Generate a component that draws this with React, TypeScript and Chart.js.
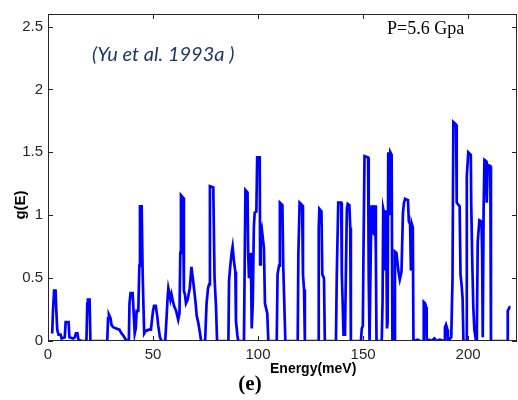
import React, { useEffect, useRef } from "react";
import { Chart, registerables } from "chart.js";
Chart.register(...registerables);

// Energy (meV) and g(E)
const energy = [
  2.0, 2.4, 2.9, 3.6, 4.0, 4.4, 5.0, 6.0, 6.5, 8.0, 8.4, 9.8, 10.2, 12.0, 12.8, 13.3, 14.0, 14.5, 16.0, 18.3,
  18.7, 19.0, 19.8, 20.2, 28.2, 28.6, 29.0, 29.8, 30.2, 31.0, 32.5, 34.0, 35.0, 36.0, 37.0, 38.5, 38.8, 39.3, 40.3, 40.8,
  41.3, 41.8, 42.2, 43.0, 43.5, 43.8, 44.6, 45.0, 45.3, 45.8, 46.5, 48.0, 49.0, 50.0, 50.5, 51.3, 52.0, 52.5, 53.3, 54.0,
  55.8, 56.5, 57.0, 57.3, 57.8, 58.3, 58.8, 59.3, 60.0, 61.0, 62.0, 62.6, 63.0, 63.3, 64.3, 64.7, 65.2, 65.7, 66.5, 67.5,
  68.3, 68.8, 69.5, 70.3, 70.8, 71.5, 72.3, 72.9, 74.8, 75.5, 76.2, 76.7, 77.1, 78.7, 79.3, 80.0, 80.5, 85.9, 86.2, 86.8,
  87.5, 87.9, 88.5, 89.2, 89.5, 90.2, 90.6, 93.3, 93.7, 94.0, 95.0, 95.3, 95.7, 96.2, 96.6, 97.0, 97.5, 98.0, 98.4, 99.2,
  99.6, 100.8, 101.0, 101.3, 101.8, 102.8, 103.3, 104.4, 104.9, 108.9, 109.3, 110.0, 110.4, 111.6, 112.0, 112.5, 113.0, 118.9, 119.2, 119.8,
  121.0, 121.4, 121.9, 122.3, 128.6, 128.9, 129.2, 130.2, 130.6, 131.4, 131.8, 137.1, 137.5, 138.2, 139.6, 139.9, 140.3, 140.7, 141.4, 141.8,
  142.3, 142.7, 143.5, 143.9, 144.2, 149.0, 149.4, 149.9, 150.2, 150.7, 152.4, 152.7, 153.1, 153.5, 154.0, 154.4, 154.8, 155.3, 155.7, 156.1,
  156.4, 158.9, 159.3, 159.6, 160.2, 160.6, 161.0, 161.4, 161.7, 162.0, 162.6, 163.0, 163.6, 164.0, 164.8, 165.2, 165.9, 166.8, 167.5, 168.3,
  169.0, 169.5, 170.0, 171.4, 171.8, 172.4, 172.8, 173.2, 173.7, 174.0, 176.0, 177.0, 178.6, 178.9, 179.5, 180.0, 180.3, 181.5, 182.5, 184.0,
  185.0, 186.5, 188.6, 189.0, 189.5, 190.2, 190.4, 192.0, 192.6, 193.0, 194.3, 194.6, 196.0, 196.4, 196.9, 197.4, 197.8, 199.1, 199.4, 200.1,
  201.3, 201.5, 202.0, 202.5, 203.0, 203.8, 204.2, 204.6, 205.4, 206.4, 206.7, 207.0, 207.4, 207.8, 208.6, 208.9, 209.4, 210.6, 210.9, 218.6,
  218.9, 219.8, 220.2,
];
const gE = [
  0.06, 0.25, 0.40, 0.40, 0.23, 0.09, 0.05, 0.05, 0.02, 0.03, 0.15, 0.15, 0.03, 0.02, 0.03, 0.06, 0.06, 0.01, 0.0, 0.0,
  0.30, 0.33, 0.33, 0.0, 0.0, 0.18, 0.21, 0.18, 0.13, 0.11, 0.10, 0.09, 0.06, 0.04, 0.01, 0.0, 0.30, 0.38, 0.38, 0.22,
  0.06, 0.10, 0.24, 0.24, 0.60, 1.07, 1.07, 0.60, 0.37, 0.06, 0.08, 0.09, 0.09, 0.24, 0.28, 0.28, 0.20, 0.12, 0.03, 0.0,
  0.0, 0.20, 0.36, 0.42, 0.38, 0.33, 0.37, 0.33, 0.28, 0.24, 0.17, 0.22, 0.70, 1.16, 1.14, 0.40, 0.37, 0.30, 0.33, 0.42,
  0.59, 0.52, 0.42, 0.30, 0.20, 0.15, 0.07, 0.0, 0.0, 0.30, 0.42, 0.45, 1.23, 1.22, 0.50, 0.27, 0.0, 0.0, 0.48, 0.60,
  0.71, 0.75, 0.64, 0.55, 0.16, 0.04, 0.0, 0.0, 0.70, 1.20, 1.18, 0.70, 0.50, 0.70, 0.65, 0.10, 0.30, 0.90, 1.02, 1.03,
  1.46, 1.46, 0.61, 0.85, 0.89, 0.74, 0.30, 0.22, 0.0, 0.0, 0.53, 0.60, 1.10, 1.08, 0.60, 0.30, 0.0, 0.0, 0.69, 1.10,
  1.08, 0.53, 0.41, 0.0, 0.0, 0.90, 1.05, 1.03, 0.53, 0.50, 0.0, 0.0, 0.53, 1.10, 1.10, 0.53, 0.30, 0.05, 0.05, 0.50,
  1.05, 1.09, 1.08, 0.90, 0.0, 0.0, 0.10, 0.12, 0.69, 1.47, 1.46, 0.50, 0.0, 0.50, 1.08, 0.85, 1.08, 0.84, 1.08, 0.70,
  0.0, 0.0, 0.32, 1.05, 1.00, 0.56, 1.04, 0.10, 0.15, 1.50, 1.00, 1.50, 1.48, 0.0, 0.0, 0.71, 0.70, 0.56, 0.49, 0.55,
  1.02, 1.10, 1.13, 1.12, 0.95, 0.93, 0.56, 0.93, 0.90, 0.0, 0.01, 0.0, 0.0, 0.31, 0.30, 0.27, 0.0, 0.01, 0.0, 0.02,
  0.0, 0.01, 0.0, 0.11, 0.13, 0.09, 0.0, 0.03, 0.50, 1.74, 1.72, 1.10, 1.07, 0.53, 0.45, 0.34, 0.0, 0.0, 1.31, 1.50,
  1.48, 1.10, 0.63, 0.27, 0.09, 0.0, 0.09, 0.79, 0.96, 0.95, 0.70, 0.03, 1.04, 1.44, 1.43, 1.10, 1.40, 1.39, 0.0, 0.0,
  0.24, 0.27, 0.27,
];

const xTicks = [0, 50, 100, 150, 200];
const yTicks = [0, 0.5, 1, 1.5, 2, 2.5];
const xMin = 0;
const xMax = 223.3;
const yMin = 0;
const yMax = 2.6;

const AXIS = "#262626";

const framePlugin = {
  id: "frame",
  afterDraw(chart: any) {
    const { ctx, chartArea: a, scales } = chart;
    ctx.save();
    ctx.strokeStyle = AXIS;
    ctx.lineWidth = 1;
    ctx.strokeRect(a.left + 0.5, a.top + 0.5, a.right - a.left - 1, a.bottom - a.top - 1);
    ctx.beginPath();
    for (const v of xTicks) {
      const px = Math.round(scales.x.getPixelForValue(v)) + 0.5;
      ctx.moveTo(px, a.bottom);
      ctx.lineTo(px, a.bottom - 5);
      ctx.moveTo(px, a.top);
      ctx.lineTo(px, a.top + 5);
    }
    for (const v of yTicks) {
      const py = Math.round(scales.y.getPixelForValue(v)) + 0.5;
      ctx.moveTo(a.left, py);
      ctx.lineTo(a.left + 5, py);
      ctx.moveTo(a.right, py);
      ctx.lineTo(a.right - 5, py);
    }
    ctx.stroke();

    // annotation texts
    ctx.fillStyle = "#1f3864";
    ctx.font = "italic 20px Lato";
    ctx.textAlign = "left";
    ctx.textBaseline = "middle";
    ctx.fillText("(Yu et al. 1993a )", 92, 55);

    ctx.fillStyle = "#000";
    ctx.font = "18px 'Liberation Serif'";
    ctx.fillText("P=5.6 Gpa", 387, 29);

    ctx.font = "bold 14px 'Liberation Sans'";
    ctx.fillText("Energy(meV)", 270, 369);

    ctx.font = "bold 21px 'Liberation Serif'";
    ctx.textAlign = "center";
    ctx.fillText("(e)", 250, 385);

    ctx.save();
    ctx.translate(21, 205);
    ctx.rotate(-Math.PI / 2);
    ctx.font = "bold 15px 'Liberation Sans'";
    ctx.textAlign = "center";
    ctx.fillText("g(E)", 0, 0);
    ctx.restore();

    ctx.restore();
  },
};

export default function App() {
  const ref = useRef<HTMLCanvasElement | null>(null);
  useEffect(() => {
    if (!ref.current) return;
    const points = energy.map((e, i) => ({ x: e, y: gE[i] }));
    const chart = new Chart(ref.current, {
      type: "line",
      data: {
        datasets: [
          {
            data: points,
            borderColor: "#0000ff",
            borderWidth: 2.7,
            pointRadius: 0,
            tension: 0,
            fill: false,
          },
        ],
      },
      options: {
        animation: false,
        responsive: false,
        devicePixelRatio: 1,
        layout: { padding: { left: 0, right: 1, top: 8, bottom: 0 } },
        plugins: { legend: { display: false }, tooltip: { enabled: false } },
        scales: {
          x: {
            type: "linear",
            min: xMin,
            max: xMax,
            grid: { display: false, drawTicks: false },
            border: { display: false },
            afterBuildTicks: (s: any) => {
              s.ticks = xTicks.map((v) => ({ value: v }));
            },
            afterFit: (s: any) => {
              s.height = 59;
            },
            ticks: {
              color: AXIS,
              padding: 5,
              maxRotation: 0,
              font: { family: "'Liberation Sans'", size: 15 },
              callback: (v: any) => String(v),
            },
          },
          y: {
            type: "linear",
            min: yMin,
            max: yMax,
            grid: { display: false, drawTicks: false },
            border: { display: false },
            afterBuildTicks: (s: any) => {
              s.ticks = yTicks.map((v) => ({ value: v }));
            },
            afterFit: (s: any) => {
              s.width = 48;
            },
            ticks: {
              color: AXIS,
              padding: 5,
              font: { family: "'Liberation Sans'", size: 15 },
              callback: (v: any) => String(v),
            },
          },
        },
      },
      plugins: [framePlugin],
    });
    return () => chart.destroy();
  }, []);
  return (
    <div style={{ position: "fixed", left: 0, top: 0, width: 518, height: 400, background: "#fff" }}>
      <canvas ref={ref} width={518} height={400} />
    </div>
  );
}
